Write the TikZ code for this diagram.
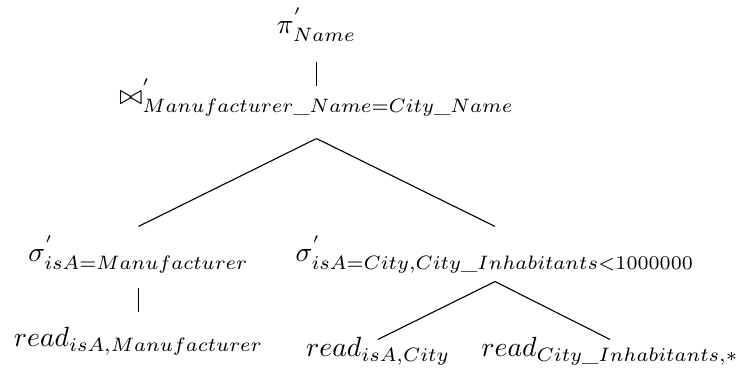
\documentclass[tikz,border=0pt]{standalone}
\usepackage{amsmath}
\newcommand{\usc}{\text{\_}}
\begin{document}
\begin{tikzpicture}[x=0.3604pt,y=-0.3604pt,
  op/.style={inner sep=0pt,anchor=base},
  edge/.style={draw=black,line width=0.4pt}]
\useasboundingbox (0,0) rectangle (740,387);
\node[op,text depth=9.73pt] (pi) at (316.5,34) {$\pi^{'}_{Name}$};
\node[op,text height=6.49pt,text depth=11.89pt] (bj) at (316.5,105) {$\bowtie^{'}_{Manufacturer\usc Name=City\usc Name}$};
\node[op,text height=12.61pt,text depth=9.01pt] (sl) at (138.5,262) {$\sigma^{'}_{isA=Manufacturer}$};
\node[op,text height=12.61pt,text depth=6.85pt] (sr) at (495,262) {$\sigma^{'}_{isA=City,City\usc Inhabitants<1000000}$};
\node[op,text height=12.25pt] (rl) at (138.5,347) {$read_{isA,Manufacturer}$};
\node[op,text height=6.13pt] (rc) at (378,357) {$read_{isA,City}$};
\node[op,text height=6.13pt] (ri) at (610,357) {$read_{City\usc Inhabitants,*}$};
\draw[edge] (pi.south) -- (bj.north);
\draw[edge] (bj.south) -- (sl.north);
\draw[edge] (bj.south) -- (sr.north);
\draw[edge] (sl.south) -- (rl.north);
\draw[edge] (sr.south) -- (rc.north);
\draw[edge] (sr.south) -- (ri.north);
\end{tikzpicture}
\end{document}
